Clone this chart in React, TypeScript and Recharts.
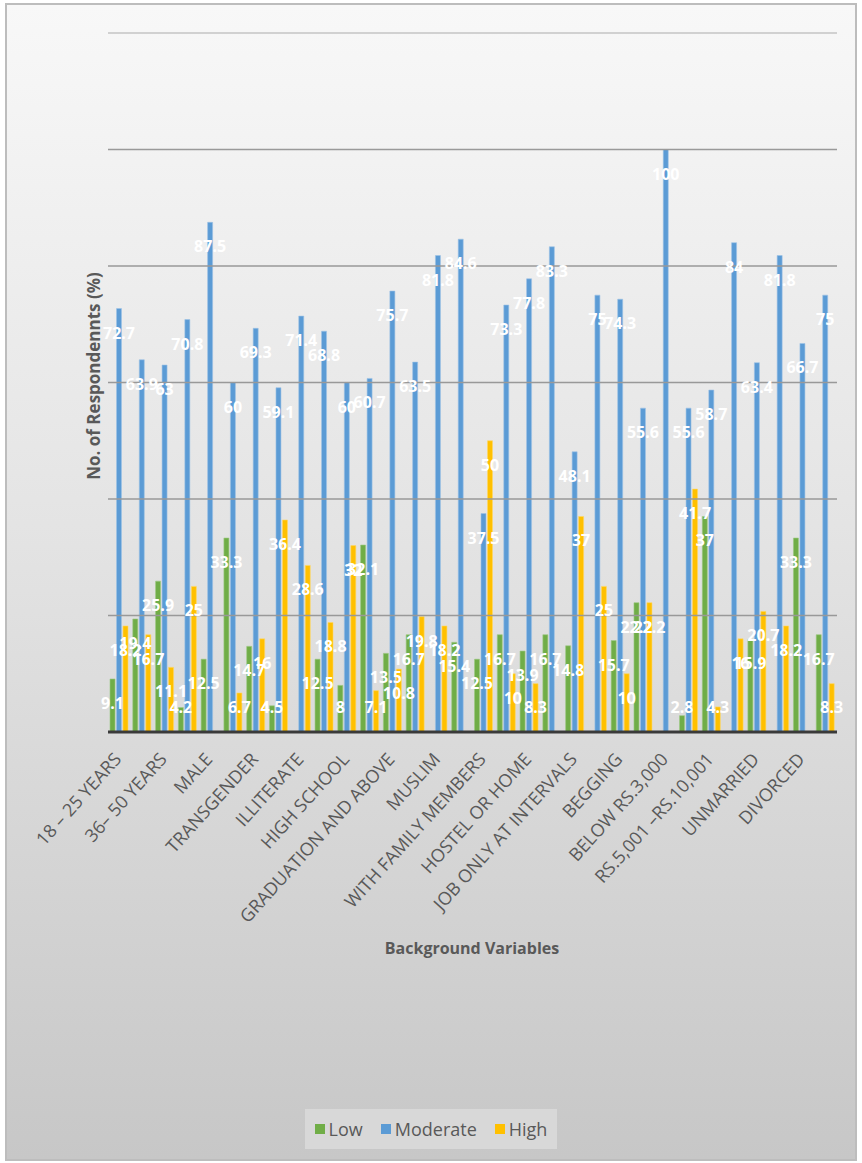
import {
  Bar,
  BarChart,
  Label,
  LabelList,
  Legend,
  ReferenceLine,
  XAxis,
  YAxis,
} from "recharts";

const categories = [
  "18 – 25 YEARS",
  "26 – 35 YEARS",
  "36– 50 YEARS",
  "ABOVE 50 YEARS",
  "MALE",
  "FEMALE",
  "TRANSGENDER",
  "OTHERS",
  "ILLITERATE",
  "PRIMARY SCHOOL",
  "HIGH SCHOOL",
  "HIGHER SECONDARY",
  "GRADUATION AND ABOVE",
  "HINDU",
  "MUSLIM",
  "CHRISTIAN",
  "WITH FAMILY MEMBERS",
  "WITH FRIENDS",
  "HOSTEL OR HOME",
  "REGULAR JOB",
  "JOB ONLY AT INTERVALS",
  "NO JOB",
  "BEGGING",
  "SEX WORK",
  "BELOW RS.3,000",
  "RS.3,001 –RS.5,000",
  "RS.5,001 –RS.10,001",
  "ABOVE RS.10,001",
  "UNMARRIED",
  "MARRIED",
  "DIVORCED",
  "WIDOWED",
];

const low = [
  9.1, 19.4, 25.9, 4.2, 12.5, 33.3, 14.7, 4.5, 0, 12.5, 8, 32.1, 13.5, 16.7,
  0, 15.4, 12.5, 16.7, 13.9, 16.7, 14.8, 0, 15.7, 22.2, 0, 2.8, 37, 0, 15.9,
  0, 33.3, 16.7,
];

const moderate = [
  72.7, 63.9, 63, 70.8, 87.5, 60, 69.3, 59.1, 71.4, 68.8, 60, 60.7, 75.7,
  63.5, 81.8, 84.6, 37.5, 73.3, 77.8, 83.3, 48.1, 75, 74.3, 55.6, 100, 55.6,
  58.7, 84, 63.4, 81.8, 66.7, 75,
];

const high = [
  18.2, 16.7, 11.1, 25, 0, 6.7, 16, 36.4, 28.6, 18.8, 32, 7.1, 10.8, 19.8,
  18.2, 0, 50, 10, 8.3, 0, 37, 25, 10, 22.2, 0, 41.7, 4.3, 16, 20.7, 18.2, 0,
  8.3,
];

const yTicks = [0, 20, 40, 60, 80, 100, 120];

const seriesNames = ["Low", "Moderate", "High"];
const seriesColors = ["#70ad47", "#5b9bd5", "#ffc000"];

const data = categories.map((name, i) => ({
  name,
  Low: low[i],
  Moderate: moderate[i],
  High: high[i],
}));

const FONT = "'Open Sans', sans-serif";
const TEXT = "#595959";
const BASE_Y = 732;

function ValueLabel(props: any) {
  const { x, y, width, value } = props;
  const ty = Math.min(Number(y) + 24, BASE_Y - 25);
  return (
    <text
      x={Number(x) + Number(width) / 2}
      y={ty}
      fill="#ffffff"
      textAnchor="middle"
      dominantBaseline="central"
      fontFamily={FONT}
      fontSize={16}
      fontWeight={700}
    >
      {value}
    </text>
  );
}

function CategoryTick(props: any) {
  const { x, payload } = props;
  const tx = Number(x) + 3;
  const ty = 760;
  return (
    <text
      x={tx}
      y={ty}
      transform={`rotate(-48, ${tx}, ${ty})`}
      textAnchor="end"
      fill={TEXT}
      fontFamily={FONT}
      fontSize={18}
    >
      {payload.value}
    </text>
  );
}

function LegendBox() {
  return (
    <div
      style={{
        display: "flex",
        alignItems: "center",
        justifyContent: "center",
        gap: 18,
        height: 40,
        background: "#d8d8d8",
        fontFamily: FONT,
        fontSize: 18,
        color: TEXT,
      }}
    >
      {seriesNames.map((n, i) => (
        <span key={n} style={{ display: "flex", alignItems: "center" }}>
          <span
            style={{
              width: 10,
              height: 10,
              background: seriesColors[i],
              marginRight: 4,
              display: "inline-block",
            }}
          />
          {n}
        </span>
      ))}
    </div>
  );
}

export default function App() {
  return (
    <div
      style={{
        position: "absolute",
        left: 0,
        top: 0,
        width: 862,
        height: 1163,
      }}
    >
      <div
        style={{
          position: "absolute",
          left: 5,
          top: 3,
          width: 848,
          height: 1154,
          border: "2px solid #bdbdbd",
          background:
            "linear-gradient(to bottom, #f8f8f8 0%, #e4e4e4 45%, #c7c7c7 100%)",
        }}
      />
      <div style={{ position: "absolute", left: 0, top: 0 }}>
        <BarChart
          width={862}
          height={1163}
          data={data}
          margin={{ top: 33, right: 25, bottom: 10, left: 68 }}
          barSize={5}
          barGap={1.5}
        >
          {yTicks
            .filter((t) => t > 0)
            .map((t) => (
              <ReferenceLine
                key={t}
                y={t}
                stroke={t === 120 ? "#c4c4c4" : "#999999"}
                strokeWidth={1.5}
              />
            ))}
          <XAxis
            dataKey="name"
            interval={1}
            height={381}
            tickLine={false}
            axisLine={{ stroke: "#3a3a3a", strokeWidth: 3 }}
            tick={<CategoryTick />}
          >
            <Label
              content={() => (
                <text
                  x={472}
                  y={948}
                  textAnchor="middle"
                  dominantBaseline="central"
                  fill={TEXT}
                  fontFamily={FONT}
                  fontSize={16}
                  fontWeight={700}
                >
                  Background Variables
                </text>
              )}
            />
          </XAxis>
          <YAxis
            domain={[0, 120]}
            ticks={yTicks}
            width={40}
            tick={false}
            tickLine={false}
            axisLine={false}
          >
            <Label
              content={() => (
                <text
                  x={93}
                  y={376}
                  transform="rotate(-90, 93, 376)"
                  textAnchor="middle"
                  dominantBaseline="central"
                  fill={TEXT}
                  fontFamily={FONT}
                  fontSize={17}
                  fontWeight={700}
                >
                  No. of Respondennts (%)
                </text>
              )}
            />
          </YAxis>
          <Legend
            verticalAlign="bottom"
            content={<LegendBox />}
            wrapperStyle={{
              left: 305,
              top: 1109,
              bottom: "auto",
              width: 252,
              height: 40,
            }}
          />
          {seriesNames.map((n, i) => (
            <Bar
              key={n}
              dataKey={n}
              fill={seriesColors[i]}
              stroke={["#9cc983", "#9dc3e6", "#ffd966"][i]}
              strokeWidth={0.6}
              isAnimationActive={false}
            >
              <LabelList dataKey={n} content={<ValueLabel />} />
            </Bar>
          ))}
        </BarChart>
      </div>
    </div>
  );
}
